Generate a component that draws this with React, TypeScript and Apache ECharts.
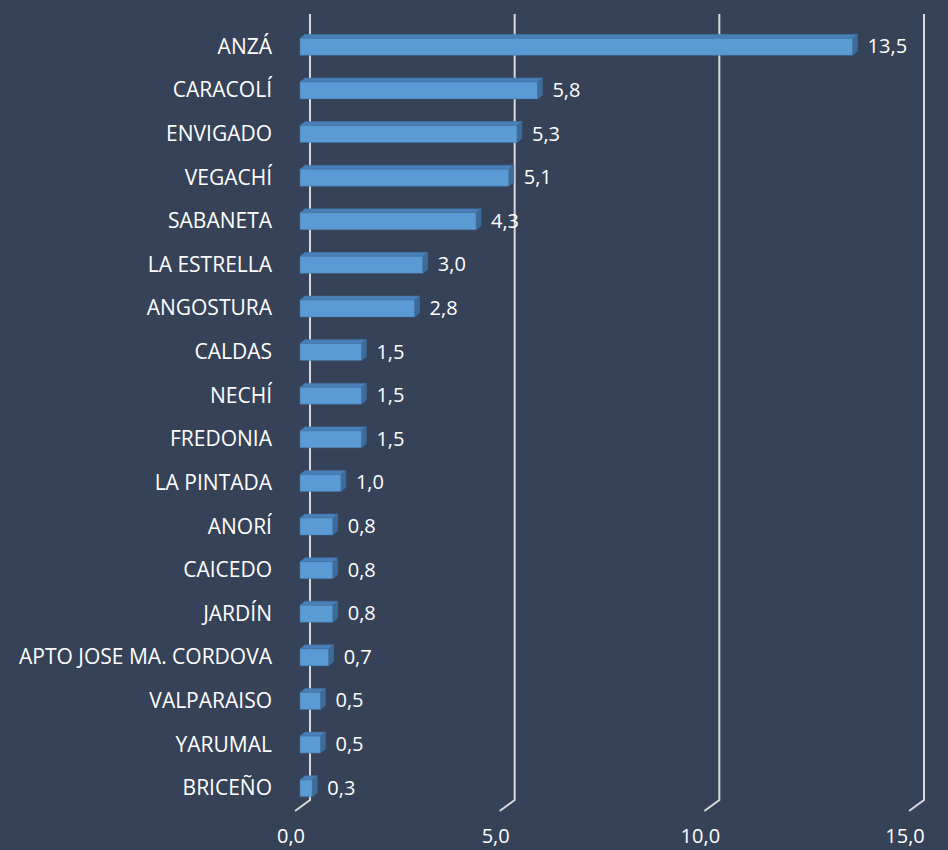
import React, { useEffect, useRef } from "react";
import * as echarts from "echarts";

const categories = [
  "ANZÁ", "CARACOLÍ", "ENVIGADO", "VEGACHÍ", "SABANETA", "LA ESTRELLA", "ANGOSTURA",
  "CALDAS", "NECHÍ", "FREDONIA", "LA PINTADA", "ANORÍ", "CAICEDO", "JARDÍN",
  "APTO JOSE MA. CORDOVA", "VALPARAISO", "YARUMAL", "BRICEÑO",
];
const values = [13.5, 5.8, 5.3, 5.1, 4.3, 3.0, 2.8, 1.5, 1.5, 1.5, 1.0, 0.8, 0.8, 0.8, 0.7, 0.5, 0.5, 0.3];
const gridTicks = [0, 5, 10, 15];

const BG = "#364258";
const FRONT = "#5b9bd5";
const TOP = "#4a80ba";
const SIDE = "#3c6b9c";
const GRIDC = "#d9d9d9";
const FONT = "Open Sans";

const fmt = (v: number) => v.toFixed(1).replace(".", ",");

export default function App() {
  const ref = useRef<HTMLDivElement>(null);
  useEffect(() => {
    if (!ref.current) return;
    const chart = echarts.init(ref.current, null, { renderer: "svg" });
    const barData = values.map((v, i) => [v, i]);
    const gridData = gridTicks.map((t) => [t, 0]);
    chart.setOption({
      animation: false,
      backgroundColor: BG,
      grid: { left: 300, right: 34, top: 24, bottom: 41, containLabel: false },
      xAxis: {
        type: "value",
        min: 0,
        max: 15,
        interval: 5,
        axisLine: { show: false },
        axisTick: { show: false },
        splitLine: { show: false },
        axisLabel: {
          color: "#ffffff",
          fontFamily: FONT,
          fontSize: 20,
          margin: 16,
          padding: [0, 18, 0, 0],
          formatter: (v: number) => fmt(v),
        },
      },
      yAxis: {
        type: "category",
        data: categories,
        inverse: true,
        axisLine: { show: false },
        axisTick: { show: false },
        splitLine: { show: false },
        axisLabel: {
          color: "#ffffff",
          fontFamily: FONT,
          fontSize: 21,
          margin: 28,
        },
      },
      series: [
        {
          type: "custom",
          z: 1,
          data: gridData,
          encode: { x: 0, y: 1 },
          renderItem: (params: any, api: any) => {
            const cs = params.coordSys;
            const x = api.coord([api.value(0), 0])[0];
            const top = cs.y - 10;
            const bottom = cs.y + cs.height - 9;
            return {
              type: "polyline",
              shape: {
                points: [
                  [x + 10, top],
                  [x + 10, bottom],
                  [x - 5, bottom + 11],
                ],
              },
              style: { stroke: GRIDC, lineWidth: 2, fill: null },
            };
          },
        },
        {
          type: "custom",
          z: 2,
          data: barData,
          encode: { x: 0, y: 1 },
          renderItem: (params: any, api: any) => {
            const v = api.value(0);
            const c = api.value(1);
            const p0 = api.coord([0, c]);
            const p1 = api.coord([v, c]);
            const h = 17;
            const dx = 5;
            const dy = 4;
            const x0 = p0[0];
            const x1 = p1[0];
            const yT = p0[1] - h / 2 + 1;
            const yB = yT + h;
            return {
              type: "group",
              children: [
                {
                  type: "polygon",
                  shape: { points: [[x0, yT], [x0 + dx, yT - dy], [x1 + dx, yT - dy], [x1, yT]] },
                  style: { fill: TOP, stroke: "#41719c", lineWidth: 0.5 },
                },
                {
                  type: "polygon",
                  shape: { points: [[x1, yT], [x1 + dx, yT - dy], [x1 + dx, yB - dy], [x1, yB]] },
                  style: { fill: SIDE, stroke: "#41719c", lineWidth: 0.5 },
                },
                {
                  type: "rect",
                  shape: { x: x0, y: yT, width: x1 - x0, height: h },
                  style: { fill: FRONT, stroke: "#41719c", lineWidth: 0.5 },
                },
                {
                  type: "text",
                  x: x1 + dx + 10,
                  y: p0[1],
                  style: {
                    text: fmt(v),
                    fill: "#ffffff",
                    font: `20px "${FONT}"`,
                    verticalAlign: "middle",
                    align: "left",
                  },
                },
              ],
            };
          },
        },
      ],
    });
    return () => chart.dispose();
  }, []);
  return <div ref={ref} style={{ width: 948, height: 850, position: "absolute", left: 0, top: 0 }} />;
}
